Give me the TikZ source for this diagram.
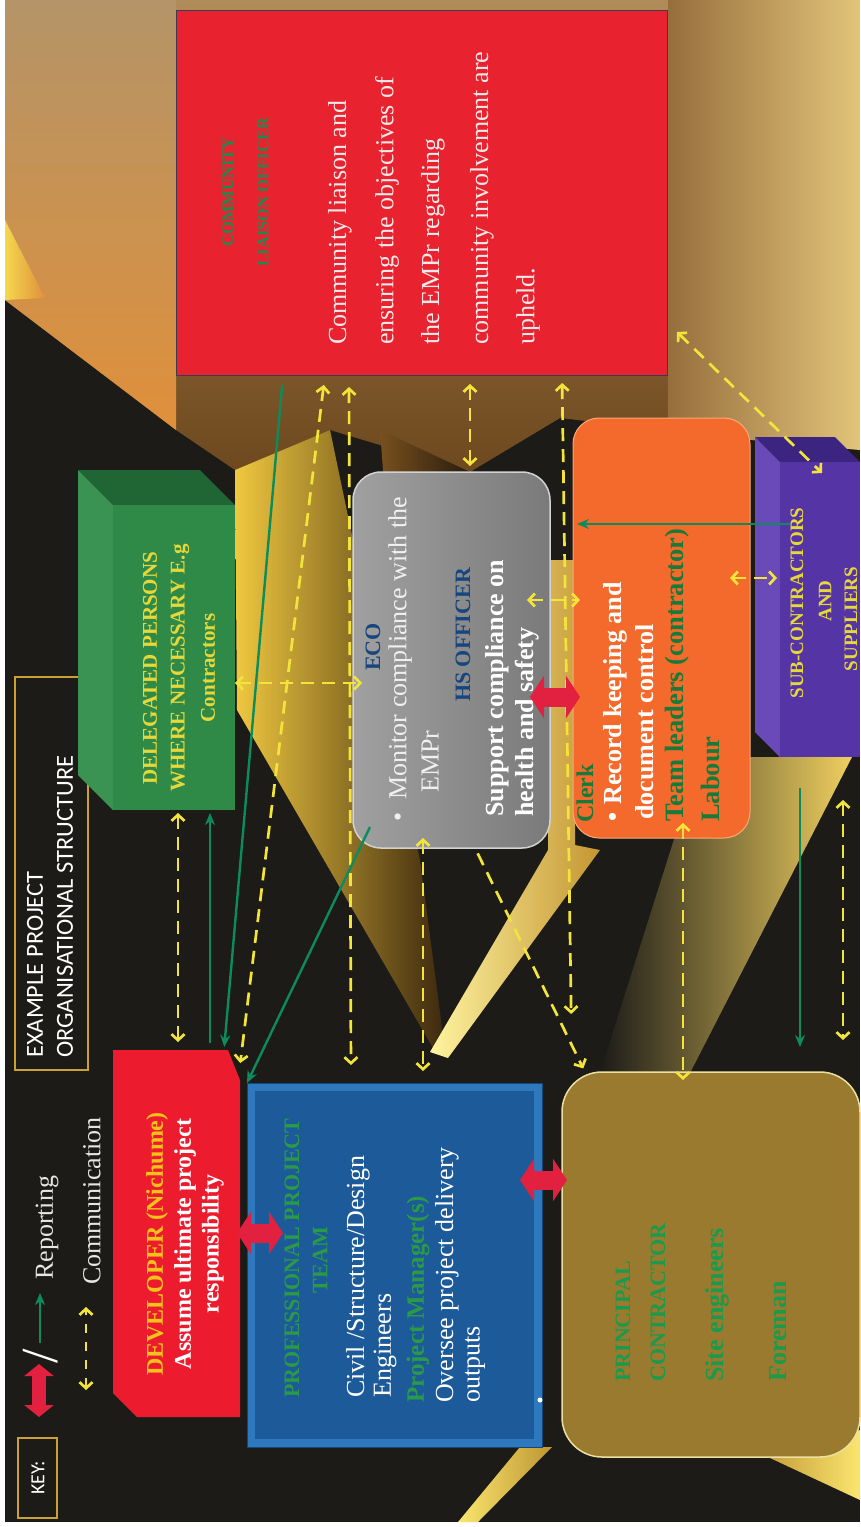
\documentclass[tikz,border=0pt]{standalone}
\usepackage{fontspec}
\setmainfont{Liberation Serif}
\newfontfamily\calfont{Carlito}
\usetikzlibrary{arrows.meta,calc}
\definecolor{bgdark}{HTML}{1C1B18}
\definecolor{commy}{HTML}{F2E43A}
\definecolor{repg}{HTML}{0C8C5C}
\definecolor{redar}{HTML}{E2203F}
\definecolor{clored}{HTML}{E8232F}
\definecolor{cloedge}{HTML}{3C3A50}
\definecolor{devred}{HTML}{EC1C2E}
\definecolor{devyel}{HTML}{F4C21A}
\definecolor{goldb}{HTML}{C9A233}
\definecolor{dfront}{HTML}{2F8A47}
\definecolor{dleft}{HTML}{3A9352}
\definecolor{dtop}{HTML}{1F6634}
\definecolor{dtxt}{HTML}{E6D83A}
\definecolor{pfront}{HTML}{5535A5}
\definecolor{pleft}{HTML}{6A4AB8}
\definecolor{ptop}{HTML}{3B2580}
\definecolor{pptout}{HTML}{2E78BD}
\definecolor{pptin}{HTML}{1C5A99}
\definecolor{pptedge}{HTML}{144678}
\definecolor{pptg}{HTML}{2A9A48}
\definecolor{clerkor}{HTML}{F46A2C}
\definecolor{clerkedge}{HTML}{F8AA78}
\definecolor{clerkg}{HTML}{177A38}
\definecolor{princ}{HTML}{9A7A2E}
\definecolor{princedge}{HTML}{ECE0A0}
\definecolor{princg}{HTML}{1B9A4C}
\definecolor{ecob}{HTML}{17457D}
\definecolor{ecol}{HTML}{A0A0A0}
\definecolor{ecor}{HTML}{7A7A7A}
\definecolor{ecoedge}{HTML}{D2D2D2}
\definecolor{clog}{HTML}{1E8A50}
\definecolor{offw}{HTML}{F4E8E8}
\definecolor{keytxt}{HTML}{E6E6E6}
\definecolor{ecotxt}{HTML}{F0F0F0}
\definecolor{bgA}{HTML}{B08C58}
\definecolor{bgB}{HTML}{6E481E}
\definecolor{bgC}{HTML}{966E3C}
\definecolor{bgD}{HTML}{E2C47A}
\definecolor{bgE}{HTML}{B49468}
\definecolor{bgF}{HTML}{E0903A}
\definecolor{bgG}{HTML}{F4D850}
\definecolor{bgH}{HTML}{78501E}
\definecolor{bgI}{HTML}{281C0E}
\definecolor{bgJ}{HTML}{F0C840}
\definecolor{bgK}{HTML}{3C280E}
\definecolor{bgL}{HTML}{FFF4A0}
\definecolor{bgM}{HTML}{C49632}
\definecolor{bgN}{HTML}{F0D060}
\definecolor{bgO}{HTML}{C8A03C}
\definecolor{bgP}{HTML}{FAE66E}
\definecolor{bgQ}{HTML}{BE9632}
\begin{document}
\begin{tikzpicture}[x=1pt,y=-1pt,
  txt/.style={rotate=90,inner sep=0pt,anchor=west},
  ctxt/.style={rotate=90,inner sep=0pt,anchor=center},
  rg/.style={font=\fontsize{#1}{#1}\selectfont},
  bd/.style={font=\bfseries\fontsize{#1}{#1}\selectfont},
  sf/.style={font=\calfont\fontsize{#1}{#1}\selectfont},
  box/.style={inner sep=0pt,outer sep=0pt},
  comm/.style={draw=commy,line width=2.7pt,dash pattern=on 13pt off 8pt,
    arrows={Straight Barb[length=6pt,width=13pt]-Straight Barb[length=6pt,width=13pt]}},
  comm1/.style={draw=commy,line width=2.7pt,dash pattern=on 13pt off 8pt,
    arrows={-Straight Barb[length=6pt,width=13pt]}},
  rep/.style={draw=repg,line width=2.4pt,arrows={-Stealth[length=12pt,width=10pt]}},
  redarr/.style={draw=redar,line width=19pt,
    arrows={Triangle[length=14pt,width=42pt]-Triangle[length=14pt,width=42pt]}},
  keyred/.style={draw=redar,line width=14pt,
    arrows={Triangle[length=12pt,width=29pt]-Triangle[length=12pt,width=29pt]}},
]
\useasboundingbox (0,0) rectangle (860,1527);
\fill[white] (0,0) rectangle (860,1527);
\fill[bgdark] (5,0) rectangle (860,1522);
% ---- background light ----
\shade[top color=bgA, bottom color=bgB]
  (5,0) -- (860,0) -- (860,450) -- (752,440) -- (560,418) -- (470,472) -- (330,430) -- (235,470) -- (176,430) -- (5,300) -- cycle;
\shade[left color=bgC, right color=bgD]
  (668,0) -- (860,0) -- (860,450) -- (752,440) -- (668,425) -- cycle;
\shade[top color=bgE, bottom color=bgF]
  (5,0) -- (176,0) -- (176,430) -- (5,300) -- cycle;
\shade[left color=bgG, right color=bgF]
  (5,220) -- (45,298) -- (5,300) -- cycle;
\shade[left color=bgH, right color=bgI]
  (380,430) -- (470,472) -- (430,700) -- (400,700) -- cycle;
% beams
\shade[left color=bgJ, right color=bgK]
  (235,470) -- (330,430) -- (420,860) -- (445,1050) -- (433,1048) -- (237,710) -- cycle;
\shade[left color=bgL, right color=bgM]
  (548,560) -- (575,560) -- (575,845) -- (600,850) -- (448,1058) -- (430,1052) -- (548,850) -- cycle;
\shade[left color=bgdark, right color=bgN]
  (700,757) -- (852,757) -- (690,1073) -- (600,1073) -- cycle;
\shade[left color=bgO, right color=bgP]
  (770,1458) -- (860,1430) -- (860,1500) -- cycle;
\shade[left color=bgP, right color=bgQ]
  (520,1447) -- (552,1447) -- (478,1522) -- (458,1522) -- cycle;
% ---- key and title ----
\node[box,draw=goldb,line width=1.2pt,minimum width=39pt,minimum height=80pt] (keybox) at (37.5,1478) {};
\node[ctxt,sf=20,white] (keyt) at (38,1478) {KEY:};
\node[box,draw=goldb,line width=1.2pt,minimum width=73pt,minimum height=393pt] (titlebox) at (51.5,873.5) {};
\node[txt,sf=24.5,white] (ti1) at (35,1058) {EXAMPLE PROJECT};
\node[txt,sf=24.5,white] (ti2) at (65,1058) {ORGANISATIONAL STRUCTURE};
\coordinate (kra) at (39,1417);
\coordinate (krb) at (39,1364);
\draw[keyred] (kra) -- (krb);
\node[ctxt,rg=52,white] (kslash) at (41,1356) {/};
\coordinate (kga) at (40,1343);
\coordinate (kgb) at (40,1293);
\draw[rep] (kga) -- (kgb);
\coordinate (kya) at (86,1390);
\coordinate (kyb) at (86,1307);
\draw[comm,dash pattern=on 9pt off 9pt] (kya) -- (kyb);
\node[txt,rg=26,keytxt] (krep) at (47,1280) {Reporting};
\node[txt,rg=26,keytxt] (kcom) at (92,1285) {Communication};
% ---- boxes ----
\node[box,draw=cloedge,line width=1pt,fill=clored,minimum width=491pt,minimum height=365pt] (clo) at (421.5,192.5) {};
\fill[dtop] (78,470) -- (200,470) -- (235,505) -- (113,505) -- cycle;
\fill[dleft] (78,470) -- (113,505) -- (113,810) -- (78,775) -- cycle;
\node[box,fill=dfront,minimum width=122pt,minimum height=305pt] (dele) at (174,657.5) {};
\fill[ptop] (755,437) -- (835,437) -- (860,462) -- (780,462) -- cycle;
\fill[pleft] (755,437) -- (780,462) -- (780,757) -- (755,732) -- cycle;
\node[box,fill=pfront,minimum width=80pt,minimum height=295pt] (sub) at (820,609.5) {};
\fill[devred] (113,1050) -- (228,1050) -- (240,1080) -- (240,1417) -- (137,1417) -- (113,1393) -- cycle;
\node[box,minimum width=127pt,minimum height=367pt] (dev) at (176.5,1233.5) {};
\node[box,fill=pptout,draw=pptedge,line width=1pt,minimum width=295pt,minimum height=364pt] (ppt) at (394.5,1265) {};
\fill[pptin] ($(ppt.north west)+(8,8)$) rectangle ($(ppt.south east)+(-8,-8)$);
\node[box,left color=ecol,right color=ecor,draw=ecoedge,line width=1.5pt,rounded corners=28pt,minimum width=197pt,minimum height=376pt] (eco) at (451.5,660) {};
\node[box,fill=clerkor,draw=clerkedge,line width=1pt,rounded corners=26pt,minimum width=177pt,minimum height=420pt] (clerk) at (661.5,628) {};
\node[box,fill=princ,draw=princedge,line width=1.5pt,rounded corners=40pt,minimum width=298pt,minimum height=385pt] (principal) at (711,1264.5) {};
% ---- texts ----
\node[ctxt,bd=24,devyel] (dv1) at (157,1244) {DEVELOPER (Nichume)};
\node[ctxt,bd=24,white] (dv2) at (185,1244) {Assume ultimate project};
\node[ctxt,bd=24,white] (dv3) at (213,1244) {responsibility};
\node[ctxt,bd=21,dtxt] (dl1) at (150,668) {DELEGATED PERSONS};
\node[ctxt,bd=21,dtxt] (dl2) at (180,668) {WHERE NECESSARY E.g};
\node[ctxt,bd=21,dtxt] (dl3) at (208,668) {Contractors};
\node[ctxt,bd=16.5,clog] (cl1) at (228,192) {COMMUNITY};
\node[ctxt,bd=16.5,clog] (cl2) at (263,192) {LIAISON OFFICER};
\node[txt,rg=26,offw] (cl3) at (340,345) {Community liaison and};
\node[txt,rg=26,offw] (cl4) at (387,345) {ensuring the objectives of};
\node[txt,rg=26,offw] (cl5) at (433,345) {the EMPr regarding};
\node[txt,rg=26,offw] (cl6) at (482,345) {community involvement are};
\node[txt,rg=26,offw] (cl7) at (528,345) {upheld.};
\node[ctxt,bd=22,ecob] (ec1) at (373,647) {ECO};
\node[txt,rg=26,ecotxt] (ec2) at (400,822) {\textbullet\hspace{13pt}Monitor compliance with the};
\node[txt,rg=26,ecotxt] (ec3) at (430,793) {EMPr};
\node[ctxt,bd=22,ecob] (ec4) at (463,635) {HS OFFICER};
\node[txt,bd=26,white] (ec5) at (497,817) {Support compliance on};
\node[txt,bd=26,white] (ec6) at (527,817) {health and safety};
\node[txt,bd=24,clerkg] (ck1) at (585,823) {Clerk};
\node[txt,bd=26,white] (ck2) at (615,822) {\textbullet\hspace{8pt}Record keeping and};
\node[txt,bd=26,white] (ck3) at (645,820) {document control};
\node[txt,bd=26.5,clerkg] (ck4) at (677,822) {Team leaders (contractor)};
\node[txt,bd=26.5,clerkg] (ck5) at (710,822) {Labour};
\node[ctxt,bd=19,dtxt] (sb1) at (797,603) {SUB-CONTRACTORS};
\node[ctxt,bd=19,dtxt] (sb2) at (825,601) {AND};
\node[ctxt,bd=19,dtxt] (sb3) at (851,619) {SUPPLIERS};
\node[txt,bd=22,pptg] (pp1) at (292,1398) {PROFESSIONAL PROJECT};
\node[ctxt,bd=22,pptg] (pp2) at (320,1260) {TEAM};
\node[txt,rg=26,white] (pp3) at (358,1398) {Civil /Structure/Design};
\node[txt,rg=26,white] (pp4) at (385,1398) {Engineers};
\node[txt,bd=25,pptg] (pp5) at (418,1403) {Project Manager(s)};
\node[txt,rg=26,white] (pp6) at (447,1403) {Oversee project delivery};
\node[txt,rg=26,white] (pp7) at (475,1403) {outputs};
\fill[white] (540,1400) circle (2.5pt);
\node[txt,bd=22,princg] (pc1) at (623,1382) {PRINCIPAL};
\node[txt,bd=22,princg] (pc2) at (658,1382) {CONTRACTOR};
\node[txt,bd=26,princg] (pc3) at (717,1382) {Site engineers};
\node[txt,bd=26,princg] (pc4) at (778,1382) {Foreman};
% ---- communication connectors ----
\coordinate (c1) at (clo.east |- 0,332);
\draw[comm,shorten <=3pt,shorten >=8pt] (dele.south -| 178,0) -- (dev.north -| 178,0);
\draw[comm,shorten >=-9pt] (dele.east |- 0,683) -- (eco.west |- 0,683);
\draw[comm,shorten <=10pt,shorten >=2pt] (clo.south -| 325,0) -- (dev.east |- 0,1065);
\draw[comm,shorten <=12pt,shorten >=18pt] (clo.south -| 349,0) -- (ppt.north -| 351,0);
\draw[comm,shorten <=9pt,shorten >=6pt] (clo.south -| 470,0) -- (eco.north -| 470,0);
\draw[comm,shorten <=-10pt,shorten >=12pt] (eco.south -| 423,0) -- (ppt.north -| 423,0);
\draw[comm,shorten <=8pt,shorten >=58pt] (clo.south -| 562,0) -- (principal.north -| 572,0);
\draw[comm,shorten <=-23pt,shorten >=-7pt] (eco.east |- 0,600) -- (clerk.west |- 0,600);
\draw[comm,shorten <=-20pt,shorten >=3pt] (clerk.east |- 0,578) -- (sub.west |- 0,578);
\draw[comm] ($(c1)+(10,0)$) -- ($(sub.north -| 822,0)+(0,11)$);
\draw[comm,shorten <=-15pt,shorten >=-8pt] (clerk.south -| 683,0) -- (principal.north -| 683,0);
\draw[comm,shorten <=43pt,shorten >=32pt] (sub.south -| 843,0) -- (principal.north -| 843,0);
\draw[comm1,shorten <=6pt,shorten >=4pt] (eco.south -| 475,0) -- (principal.north -| 585,0);
% ---- reporting connectors ----
\draw[rep,shorten <=7pt,shorten >=3pt] (dev.north -| 210,0) -- (dele.south -| 210,0);
\draw[rep,shorten <=10pt,shorten >=3pt] (clo.south -| 283,0) -- (dev.north -| 224,0);
\draw[rep] ($(eco.south west)+(17,-21)$) -- (ppt.north west);
\draw[rep,shorten <=-10pt,shorten >=27pt] (sub.west |- 0,524) -- (eco.east |- 0,524);
\draw[rep,shorten <=31pt,shorten >=25pt] (sub.south -| 800,0) -- (principal.north -| 800,0);
\draw[redarr,shorten <=-3pt,shorten >=-36pt] (dev.east |- 0,1233) -- (ppt.west |- 0,1233);
\draw[redarr,shorten <=-20pt,shorten >=-7pt] (eco.east |- 0,697) -- (clerk.west |- 0,697);
\draw[redarr,shorten <=-22pt,shorten >=-5pt] (ppt.east |- 0,1180) -- (principal.west |- 0,1180);
\end{tikzpicture}
\end{document}
